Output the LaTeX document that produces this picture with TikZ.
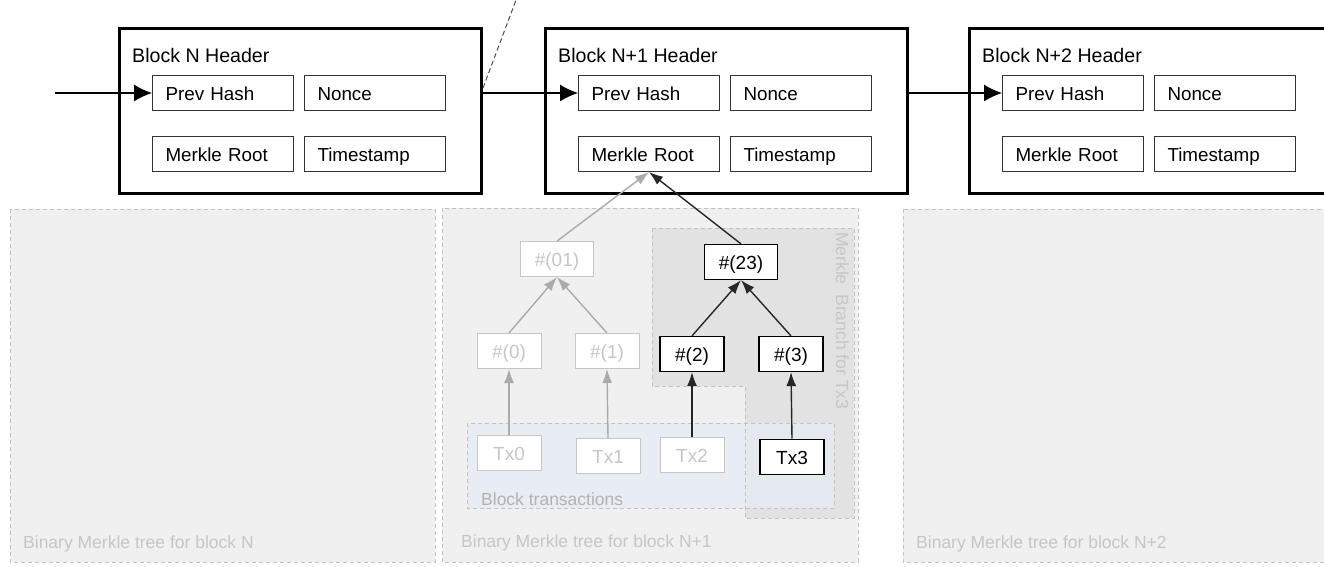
\documentclass[tikz,border=0pt]{standalone}
\usepackage{fontspec}
\setmainfont{Liberation Sans}
\usetikzlibrary{arrows.meta,positioning}
\usepackage{xcolor}
\definecolor{panelfill}{HTML}{F0F0F0}
\definecolor{paneldraw}{HTML}{C2C2C2}
\definecolor{ghost}{HTML}{C6C6C6}
\definecolor{ghostline}{HTML}{ABABAB}
\definecolor{branchfill}{HTML}{E2E2E2}
\definecolor{txfill}{HTML}{E4ECF5}
\tikzset{
  header/.style={
    rectangle,
    draw=black,
    line width=3pt,
    minimum width=362pt,
    minimum height=165pt,
    inner sep=0pt,
    anchor=north west
    },
  title/.style={
    inner sep=0pt,
    anchor=base west,
    font=\fontsize{19.6}{22}\selectfont
    },
  field/.style={
    rectangle,
    draw=black!80,
    line width=1pt,
    fill=white,
    minimum height=35pt,
    text width=115pt,
    text height=16pt,
    text depth=1pt,
    inner xsep=13pt,
    inner ysep=0pt,
    align=left,
    anchor=north west,
    font=\fontsize{18.8}{20}\selectfont
    },
  hashnode/.style={
    rectangle,
    draw=black,
    line width=1.2pt,
    fill=white,
    minimum width=64pt,
    minimum height=35pt,
    text height=16pt,
    text depth=1pt,
    inner sep=0pt,
    font=\fontsize{19}{20}\selectfont
    },
  ghostnode/.style={hashnode, draw=ghost, text=ghost, line width=1pt},
  panel/.style={fill=panelfill, draw=paneldraw, line width=1pt, dash pattern=on 4pt off 3pt},
  panellabel/.style={inner sep=0pt, anchor=base west, text=ghost, font=\fontsize{17.5}{20}\selectfont},
  arrow/.style={line width=1.3pt, -{Latex[length=18pt,width=17pt]}},
  treearrow/.style={line width=1.4pt, draw=black!85, -{Latex[length=14pt,width=10pt]}},
  ghostarrow/.style={treearrow, draw=ghostline},
}

\begin{document}
\begin{tikzpicture}[x=1pt, y=-1pt]
    \useasboundingbox (0,0) rectangle (1324,567);

    % Background panels for the three Merkle trees
    \draw[panel] (10,209) rectangle (435,562);
    \draw[panel] (442,208) rectangle (858,562);
    \draw[panel] (903,209) rectangle (1340,562);

    % Merkle branch and block transactions areas
    \fill[branchfill] (652,228) -- (854,228) -- (854,518) -- (745,518) -- (745,386) -- (652,386) -- cycle;
    \fill[txfill, fill opacity=0.7] (467,423) rectangle (834,508);
    \draw[paneldraw, line width=1pt, dash pattern=on 4pt off 3pt] (652,228) -- (854,228) -- (854,518) -- (745,518) -- (745,386) -- (652,386) -- cycle;
    \draw[paneldraw, line width=1pt, dash pattern=on 4pt off 3pt] (467,423) rectangle (834,508);

    % Annotate the areas
    \node[panellabel] (treeN) at (23,548) {Binary Merkle tree for block N};
    \node[panellabel] (treeN1) at (461,547) {Binary Merkle tree for block N+1};
    \node[panellabel] (treeN2) at (916,548) {Binary Merkle tree for block N+2};
    \node[panellabel, text=black!30] (txs) at (481,505) {Block transactions};
    \node[panellabel, rotate=-90] (branch) at (836,232) {Merkle\ \ Branch for Tx3};

    % Draw the block headers
    \foreach \i/\x/\lab in {0/118/N, 1/544/N+1, 2/968/N+2} {
        \node[header] (B\i) at (\x,27) {};
        \node[title] (T\i) at (\x+14,63) {Block \lab\ Header};
        \node[field] (P\i) at (\x+34,75) {Prev Hash};
        \node[field] (No\i) at (\x+186,75) {Nonce};
        \node[field] (M\i) at (\x+34,136) {Merkle Root};
        \node[field] (Ts\i) at (\x+186,136) {Timestamp};
    }

    % Chain the headers
    \coordinate (in) at (55,93);
    \coordinate (cut) at (516,0);
    \draw[arrow] (in) -- (P0.west);
    \draw[arrow] (B0.east |- P1.west) -- (P1.west);
    \draw[arrow] (B1.east |- P2.west) -- (P2.west);
    \draw[black!70, line width=1pt, dash pattern=on 5pt off 3pt] ([yshift=-61pt]B0.north east) -- (cut);

    % Draw the tree nodes
    \node[ghostnode, minimum width=73pt] (H01) at (557,259) {\#(01)};
    \node[hashnode, minimum width=73pt] (H23) at (741,262) {\#(23)};
    \node[ghostnode] (H0) at (509,351) {\#(0)};
    \node[ghostnode] (H1) at (607,351) {\#(1)};
    \node[hashnode] (H2) at (692,354) {\#(2)};
    \node[hashnode] (H3) at (791,354) {\#(3)};
    \node[ghostnode] (Tx0) at (509,453) {Tx0};
    \node[ghostnode] (Tx1) at (608,456) {Tx1};
    \node[ghostnode] (Tx2) at (692,455) {Tx2};
    \node[hashnode, line width=1.6pt] (Tx3) at (792,457) {Tx3};

    % Connect the tree
    \draw[ghostarrow] (Tx0.north) -- (H0.south);
    \draw[ghostarrow] (Tx1.north) -- (H1.south);
    \draw[treearrow] (Tx2.north) -- (H2.south);
    \draw[treearrow] (Tx3.north) -- (H3.south);
    \draw[ghostarrow] (H0.north) -- (H01.south);
    \draw[ghostarrow] (H1.north) -- (H01.south);
    \draw[treearrow] (H2.north) -- (H23.south);
    \draw[treearrow] (H3.north) -- (H23.south);
    \draw[ghostarrow] (H01.north) -- (M1.south);
    \draw[treearrow] (H23.north) -- (M1.south);
\end{tikzpicture}
\end{document}
